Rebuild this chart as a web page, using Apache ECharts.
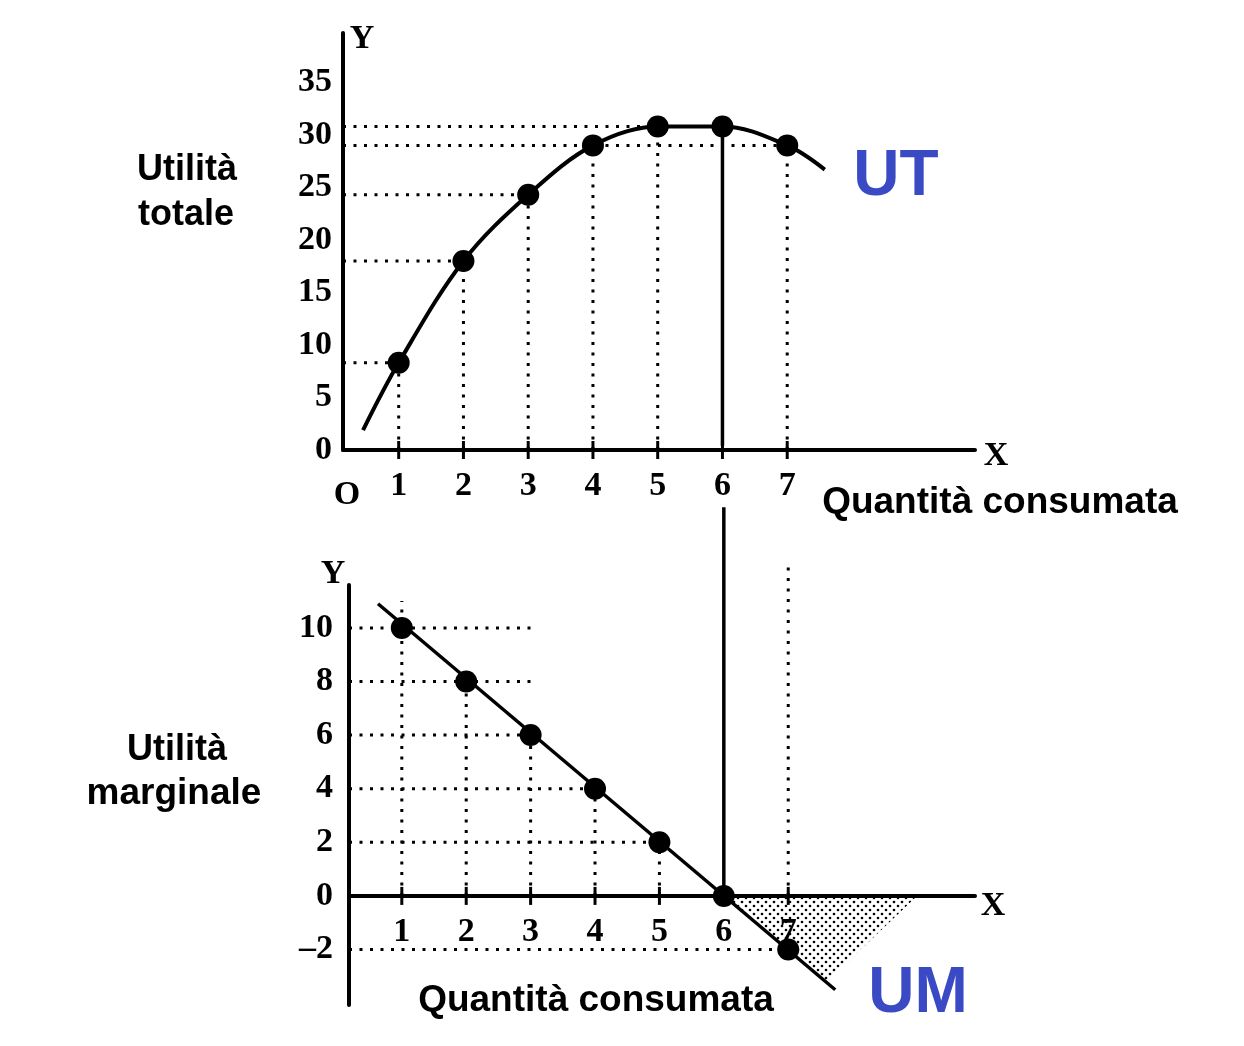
<!DOCTYPE html>
<html><head><meta charset="utf-8">
<script src="https://cdn.jsdelivr.net/npm/echarts@6/dist/echarts.min.js"></script>
<style>html,body{margin:0;padding:0;background:#fff}#c{width:1244px;height:1046px}</style>
</head><body><div id="c"></div>
<script>
// ---- data ----
const quantities = [1, 2, 3, 4, 5, 6, 7];
const totalUtility = [8.3, 18, 24.3, 29, 30.8, 30.8, 29];
const marginalUtility = [10, 8, 6, 4, 2, 0, -2];
const utCurveStart = [0.45, 1.9];
const utCurveEnd = [7.58, 26.7];
const umLineStart = [0.63, 10.9];
const umLineEnd = [7.73, -3.5];
const topYTicks = [0, 5, 10, 15, 20, 25, 30, 35];
const bottomYTicks = [-2, 0, 2, 4, 6, 8, 10];
const xTicks = [1, 2, 3, 4, 5, 6, 7];
const lossArea = [[6, 0], [9, 0], [7.6, -3.2]];
const topXMin = 0.14, bottomXMin = 0.18;
const bottomYMin = -4.07, bottomYMax = 11.6;

// ---- reference segments built from the data ----
const topDotted = [];
quantities.forEach((q, i) => { if (q !== 6) topDotted.push([q, 0, q, totalUtility[i]]); });
[0, 1, 2].forEach(i => topDotted.push([topXMin, totalUtility[i], quantities[i], totalUtility[i]]));
topDotted.push([topXMin, totalUtility[6], quantities[6], totalUtility[6]]);
topDotted.push([topXMin, totalUtility[4], quantities[5], totalUtility[4]]);
const topSolid = [[6, totalUtility[5], 6, 0.4]];

const bottomDotted = [
  [1, 0, 1, 11],
  [2, 0, 2, marginalUtility[1]],
  [3, 0, 3, marginalUtility[2]],
  [4, 0, 4, marginalUtility[3]],
  [5, 0, 5, marginalUtility[4]],
  [7, 0, 7, 12.35],
  [bottomXMin, 10, 3, 10],
  [bottomXMin, 8, 3, 8],
  [bottomXMin, 6, 3, 6],
  [bottomXMin, 4, 4, 4],
  [bottomXMin, 2, 5, 2],
  [bottomXMin, -2, 7, -2]
];
const bottomSolid = [[6, 0, 6, 14.5]];

// dotted fill pattern
const pat = document.createElement('canvas');
pat.width = 8; pat.height = 8;
const pc = pat.getContext('2d');
pc.fillStyle = '#000';
pc.beginPath(); pc.arc(2, 2, 1.3, 0, Math.PI * 2); pc.fill();
pc.beginPath(); pc.arc(6, 6, 1.3, 0, Math.PI * 2); pc.fill();

const serifLabel = {fontFamily: 'Liberation Serif', fontWeight: 'bold', fontSize: 34, color: '#000'};

function segSeries(data, xi, yi, dotted) {
  return {
    type: 'custom', xAxisIndex: xi, yAxisIndex: yi, clip: false, silent: true, z: 2,
    data: data,
    renderItem: function (params, api) {
      const a = api.coord([api.value(0), api.value(1)]);
      const b = api.coord([api.value(2), api.value(3)]);
      return {
        type: 'line',
        shape: {x1: a[0], y1: a[1], x2: b[0], y2: b[1]},
        style: dotted ? {stroke: '#000', lineWidth: 3, lineDash: [3, 7.5]} : {stroke: '#000', lineWidth: 3.5}
      };
    }
  };
}
function tickSeries(xi, yi) {
  return {
    type: 'custom', xAxisIndex: xi, yAxisIndex: yi, clip: false, silent: true, z: 3,
    data: xTicks,
    renderItem: function (params, api) {
      const p = api.coord([api.value(0), 0]);
      return {type: 'line', shape: {x1: p[0], y1: p[1] - 9, x2: p[0], y2: p[1] + 9},
              style: {stroke: '#000', lineWidth: 3}};
    }
  };
}

const chart = echarts.init(document.getElementById('c'));
const txt = (x, y, t, font, color) => ({type: 'text', x: x, y: y,
  style: {text: t, font: font, fill: color || '#000', textAlign: 'center', textVerticalAlign: 'middle'}});
const sansU = 'bold 36px "Liberation Sans"';
const sansB = 'bold 37px "Liberation Sans"';
const serifB = 'bold 34px "Liberation Serif"';

const bottomGridHeight = 420;
const bottomZeroOffset = -(0 - bottomYMin) / (bottomYMax - bottomYMin) * bottomGridHeight;

chart.setOption({
  animation: false,
  backgroundColor: '#fff',
  grid: [
    {left: 343, top: 33, width: 632, height: 417},
    {left: 349, top: 585, width: 626, height: bottomGridHeight}
  ],
  xAxis: [
    {gridIndex: 0, type: 'value', min: topXMin, max: 9.9, splitLine: {show: false},
     axisLine: {lineStyle: {color: '#000', width: 4}}, axisTick: {show: false},
     axisLabel: Object.assign({customValues: xTicks, margin: 19}, serifLabel)},
    {gridIndex: 1, type: 'value', min: bottomXMin, max: 9.9, splitLine: {show: false},
     position: 'bottom', offset: bottomZeroOffset,
     axisLine: {onZero: false, lineStyle: {color: '#000', width: 4}}, axisTick: {show: false},
     axisLabel: Object.assign({customValues: xTicks, margin: 19}, serifLabel)}
  ],
  yAxis: [
    {gridIndex: 0, type: 'value', min: 0, max: 39.7, splitLine: {show: false},
     axisLine: {show: true, lineStyle: {color: '#000', width: 4}}, axisTick: {show: false},
     axisLabel: Object.assign({customValues: topYTicks, margin: 11}, serifLabel)},
    {gridIndex: 1, type: 'value', min: bottomYMin, max: bottomYMax, splitLine: {show: false},
     axisLine: {show: true, lineStyle: {color: '#000', width: 4}}, axisTick: {show: false},
     axisLabel: Object.assign({customValues: bottomYTicks, margin: 16,
       formatter: v => v < 0 ? '\u2013' + Math.abs(v) : String(v)}, serifLabel)}
  ],
  series: [
    segSeries(topDotted, 0, 0, true),
    segSeries(topSolid, 0, 0, false),
    tickSeries(0, 0),
    {type: 'line', xAxisIndex: 0, yAxisIndex: 0, smooth: 0.35, showSymbol: false, z: 4,
     lineStyle: {color: '#000', width: 4},
     data: [utCurveStart].concat(quantities.map((q, i) => [q, totalUtility[i]]), [utCurveEnd])},
    {type: 'scatter', xAxisIndex: 0, yAxisIndex: 0, symbolSize: 22, z: 5,
     itemStyle: {color: '#000', opacity: 1},
     data: quantities.map((q, i) => [q, totalUtility[i]])},

    {type: 'custom', xAxisIndex: 1, yAxisIndex: 1, clip: false, silent: true, z: 1,
     data: [0],
     renderItem: function (params, api) {
       const pts = lossArea.map(p => api.coord(p));
       return {type: 'polygon', shape: {points: pts},
               style: {fill: {image: pat, repeat: 'repeat'}, stroke: null}};
     }},
    segSeries(bottomDotted, 1, 1, true),
    segSeries(bottomSolid, 1, 1, false),
    tickSeries(1, 1),
    {type: 'line', xAxisIndex: 1, yAxisIndex: 1, showSymbol: false, z: 4,
     lineStyle: {color: '#000', width: 3.5},
     data: [umLineStart, umLineEnd]},
    {type: 'scatter', xAxisIndex: 1, yAxisIndex: 1, symbolSize: 22, z: 5,
     itemStyle: {color: '#000', opacity: 1},
     data: quantities.map((q, i) => [q, marginalUtility[i]])}
  ],
  graphic: [
    txt(187, 170, 'Utilità', sansU),
    txt(186, 215, 'totale', sansU),
    txt(177, 750, 'Utilità', sansU),
    txt(174, 794, 'marginale', sansB),
    txt(1000, 503, 'Quantità consumata', sansB),
    txt(596, 1001, 'Quantità consumata', sansB),
    txt(896, 177, 'UT', 'bold 64px "Liberation Sans"', '#3a4ac4'),
    txt(918, 994, 'UM', 'bold 64px "Liberation Sans"', '#3a4ac4'),
    txt(362, 39, 'Y', serifB),
    txt(996, 456, 'X', serifB),
    txt(347, 495, 'O', serifB),
    txt(333, 574, 'Y', serifB),
    txt(993, 906, 'X', serifB)
  ]
});
</script></body></html>
